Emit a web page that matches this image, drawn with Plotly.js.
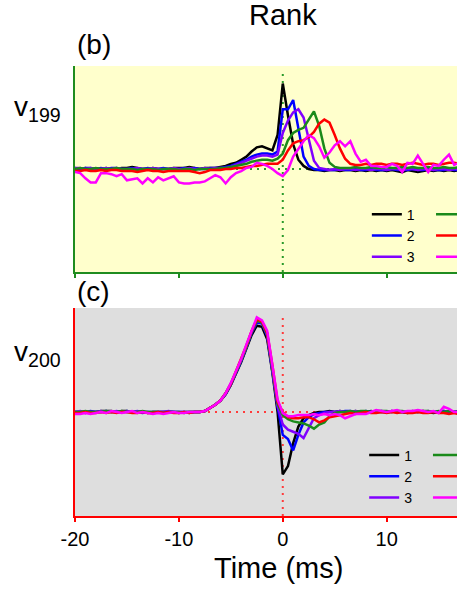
<!DOCTYPE html>
<html>
<head>
<meta charset="utf-8">
<script src="https://cdn.plot.ly/plotly-3.0.1.min.js"></script>
<style>
  html, body { margin: 0; padding: 0; background: #fff; }
  #chart { width: 457px; height: 591px; }
</style>
</head>
<body>
<div id="chart"></div>
<script>
// time axis (ms), one sample every 0.5 ms
const times = [
  -20, -19.5, -19, -18.5, -18, -17.5, -17, -16.5, -16, -15.5,
  -15, -14.5, -14, -13.5, -13, -12.5, -12, -11.5, -11, -10.5,
  -10, -9.5, -9, -8.5, -8, -7.5, -7, -6.5, -6, -5.5,
  -5, -4.5, -4, -3.5, -3, -2.5, -2, -1.5, -1, -0.5,
  0, 0.5, 1, 1.5, 2, 2.5, 3, 3.5, 4, 4.5,
  5, 5.5, 6, 6.5, 7, 7.5, 8, 8.5, 9, 9.5,
  10, 10.5, 11, 11.5, 12, 12.5, 13, 13.5, 14, 14.5,
  15, 15.5, 16, 16.5, 17
];

const tickVals = [-20, -10, 0, 10];
const tickText = ['-20', '-10', '0', '10'];

const rankNames = ['1', '2', '3', '4', '5', '6'];
const rankColors = ['#000000', '#0000ff', '#8000ff', '#1a8a1a', '#ff0000', '#ff00ff'];

// panel (b): v199
const v199rank1 = [
  0.00, 0.00, 0.01, 0.00, 0.00, 0.00, 0.01, 0.00, 0.00, 0.01,
  0.01, 0.02, 0.01, 0.00, 0.00, 0.01, 0.00, 0.00, 0.00, 0.01,
  0.01, 0.01, 0.02, 0.01, 0.00, 0.01, 0.01, 0.01, 0.02, 0.03,
  0.05, 0.06, 0.09, 0.12, 0.17, 0.21, 0.22, 0.20, 0.18, 0.33,
  0.83, 0.52, 0.24, 0.09, 0.03, 0.00, -0.01, -0.01, -0.02, -0.01,
  -0.01, -0.02, -0.01, -0.01, -0.02, -0.01, -0.02, -0.01, -0.02, -0.01,
  -0.02, -0.01, -0.02, -0.03, -0.01, -0.02, -0.03, -0.02, -0.01, -0.02,
  -0.01, -0.02, -0.01, -0.02, -0.01
];
const v199rank2 = [
  0.01, 0.00, 0.01, 0.01, 0.00, 0.01, 0.00, 0.01, 0.01, 0.00,
  0.00, 0.01, 0.00, 0.00, 0.01, 0.00, 0.00, 0.01, 0.00, 0.00,
  0.00, 0.01, 0.00, 0.01, 0.00, 0.00, 0.01, 0.01, 0.01, 0.02,
  0.03, 0.05, 0.07, 0.09, 0.12, 0.14, 0.15, 0.15, 0.14, 0.17,
  0.58, 0.58, 0.67, 0.40, 0.12, 0.03, 0.00, -0.01, -0.01, -0.01,
  -0.01, 0.00, -0.01, -0.01, 0.00, -0.01, -0.01, 0.00, -0.01, -0.01,
  -0.01, 0.00, -0.01, -0.01, -0.01, 0.00, -0.01, -0.01, 0.00, -0.01,
  -0.01, -0.01, 0.00, -0.01, -0.01
];
const v199rank3 = [
  0.01, 0.01, 0.00, 0.01, 0.00, 0.00, 0.01, 0.00, 0.01, 0.00,
  0.00, 0.00, 0.01, 0.00, 0.00, 0.01, 0.00, 0.00, 0.00, 0.01,
  0.00, 0.00, 0.01, 0.00, 0.00, 0.01, 0.00, 0.01, 0.01, 0.01,
  0.02, 0.04, 0.06, 0.08, 0.10, 0.12, 0.13, 0.13, 0.12, 0.14,
  0.35, 0.47, 0.55, 0.58, 0.50, 0.28, 0.08, 0.01, 0.00, -0.01,
  0.00, -0.01, 0.00, 0.00, -0.01, 0.00, 0.00, -0.01, 0.00, 0.00,
  -0.01, 0.00, 0.00, -0.01, 0.00, 0.00, -0.01, 0.00, 0.00, -0.01,
  0.00, 0.00, -0.01, 0.00, 0.00
];
const v199rank4 = [
  0.00, 0.01, 0.00, 0.00, 0.01, 0.00, 0.00, 0.00, 0.01, 0.00,
  0.00, 0.00, -0.01, 0.00, 0.00, 0.00, -0.01, 0.00, 0.00, 0.00,
  -0.01, 0.00, 0.00, -0.01, 0.00, 0.00, 0.00, 0.00, 0.01, 0.01,
  0.02, 0.03, 0.04, 0.05, 0.07, 0.08, 0.09, 0.09, 0.08, 0.10,
  0.15, 0.28, 0.35, 0.38, 0.40, 0.48, 0.56, 0.42, 0.20, 0.06,
  0.02, 0.01, 0.01, 0.01, 0.02, 0.01, 0.01, 0.02, 0.01, 0.01,
  0.02, 0.01, 0.01, 0.02, 0.01, 0.02, 0.01, 0.01, 0.02, 0.01,
  0.01, 0.02, 0.01, 0.01, 0.02
];
const v199rank5 = [
  -0.02, -0.02, -0.01, -0.02, -0.02, -0.01, -0.02, -0.01, -0.01, -0.02,
  -0.02, -0.02, -0.03, -0.02, -0.01, -0.02, -0.02, -0.03, -0.02, -0.02,
  -0.02, -0.02, -0.02, -0.03, -0.04, -0.03, -0.01, -0.01, -0.01, 0.00,
  0.00, 0.01, 0.01, 0.02, 0.03, 0.03, 0.04, 0.05, 0.05, 0.05,
  0.09, 0.18, 0.25, 0.27, 0.28, 0.31, 0.36, 0.44, 0.48, 0.45,
  0.33, 0.20, 0.10, 0.05, 0.04, 0.04, 0.05, 0.04, 0.05, 0.05,
  0.04, 0.05, 0.05, 0.04, 0.05, 0.06, 0.05, 0.04, 0.05, 0.05,
  0.04, 0.05, 0.06, 0.06, 0.05
];
const v199rank6 = [
  -0.03, -0.04, -0.09, -0.13, -0.13, -0.04, -0.04, -0.05, -0.07, -0.05,
  -0.11, -0.10, -0.09, -0.14, -0.09, -0.13, -0.08, -0.11, -0.09, -0.07,
  -0.13, -0.14, -0.14, -0.13, -0.13, -0.12, -0.09, -0.06, -0.08, -0.14,
  -0.08, -0.04, -0.02, 0.01, 0.02, 0.06, 0.05, 0.03, 0.00, -0.04,
  -0.07, -0.01, 0.12, 0.20, 0.27, 0.33, 0.30, 0.22, 0.11, 0.16,
  0.23, 0.27, 0.22, 0.27, 0.15, 0.07, 0.09, 0.03, 0.03, 0.02,
  0.02, 0.05, 0.03, -0.03, 0.06, 0.05, 0.13, 0.05, -0.03, 0.04,
  0.03, 0.09, 0.14, 0.04, 0.06
];

// panel (c): v200
const v200rank1 = [
  0.00, 0.00, -0.01, 0.00, 0.00, 0.01, 0.01, 0.01, 0.00, 0.01,
  0.01, 0.00, 0.00, 0.00, -0.01, 0.00, 0.00, 0.00, 0.00, 0.00,
  -0.01, 0.00, 0.00, 0.00, 0.00, 0.01, 0.04, 0.07, 0.11, 0.17,
  0.26, 0.37, 0.48, 0.61, 0.74, 0.83, 0.82, 0.70, 0.38, 0.00,
  -0.60, -0.52, -0.30, -0.14, -0.06, -0.03, -0.01, 0.00, 0.00, 0.01,
  0.00, 0.01, 0.00, 0.00, 0.01, 0.00, 0.00, 0.01, 0.00, 0.00,
  0.00, 0.01, 0.00, 0.00, -0.01, 0.00, 0.00, 0.01, 0.00, -0.01,
  0.00, 0.01, 0.00, 0.00, 0.01
];
const v200rank2 = [
  0.00, 0.00, 0.00, 0.01, 0.00, 0.00, 0.01, 0.00, 0.00, 0.00,
  0.01, 0.00, 0.00, -0.01, 0.00, 0.00, 0.00, 0.00, 0.00, 0.00,
  0.00, 0.00, -0.01, 0.00, 0.00, 0.01, 0.04, 0.07, 0.11, 0.17,
  0.26, 0.37, 0.49, 0.62, 0.76, 0.86, 0.85, 0.73, 0.40, 0.05,
  -0.22, -0.26, -0.37, -0.22, -0.10, -0.05, -0.02, -0.01, 0.00, 0.00,
  0.00, 0.00, 0.01, 0.01, 0.00, 0.00, 0.01, 0.00, 0.00, 0.01,
  0.00, 0.00, 0.01, 0.00, 0.00, 0.00, 0.01, 0.00, 0.00, 0.00,
  0.00, 0.01, 0.00, 0.00, 0.00
];
const v200rank3 = [
  0.00, 0.01, 0.00, 0.00, 0.00, 0.01, 0.00, 0.00, 0.01, 0.00,
  0.00, 0.00, 0.01, 0.00, 0.00, -0.01, 0.00, 0.00, 0.01, 0.00,
  0.00, 0.00, 0.00, 0.00, 0.00, 0.01, 0.04, 0.07, 0.11, 0.18,
  0.27, 0.38, 0.50, 0.63, 0.77, 0.88, 0.86, 0.74, 0.42, 0.06,
  -0.12, -0.17, -0.19, -0.21, -0.25, -0.15, -0.06, -0.03, -0.01, 0.00,
  0.00, 0.01, 0.00, 0.00, 0.01, 0.00, 0.00, 0.00, 0.01, 0.00,
  0.00, 0.01, 0.00, 0.00, 0.00, 0.01, 0.00, 0.00, 0.01, 0.00,
  0.00, 0.00, 0.01, 0.00, 0.00
];
const v200rank4 = [
  0.00, 0.00, 0.01, 0.00, 0.00, 0.00, 0.01, 0.00, 0.00, 0.01,
  0.00, 0.00, 0.00, 0.01, 0.00, 0.00, 0.00, -0.01, 0.00, 0.00,
  0.00, -0.01, 0.00, 0.00, 0.00, 0.01, 0.04, 0.07, 0.11, 0.18,
  0.27, 0.38, 0.50, 0.63, 0.77, 0.88, 0.86, 0.75, 0.43, 0.08,
  -0.03, -0.07, -0.09, -0.10, -0.11, -0.13, -0.16, -0.12, -0.10, -0.04,
  -0.01, 0.00, 0.00, 0.01, 0.00, 0.01, 0.01, 0.00, 0.01, 0.01,
  0.01, 0.00, 0.01, 0.01, 0.00, 0.01, 0.00, 0.01, 0.01, 0.00,
  0.01, 0.00, 0.01, 0.00, 0.00
];
const v200rank5 = [
  -0.01, -0.01, 0.00, -0.01, -0.01, 0.00, -0.01, 0.00, -0.01, 0.00,
  0.00, -0.01, -0.01, 0.00, -0.01, -0.01, 0.00, -0.01, 0.00, -0.01,
  -0.01, 0.00, -0.01, 0.00, 0.00, 0.01, 0.04, 0.07, 0.11, 0.18,
  0.27, 0.39, 0.51, 0.64, 0.78, 0.89, 0.87, 0.76, 0.45, 0.10,
  0.00, -0.05, -0.06, -0.06, -0.05, -0.05, -0.07, -0.10, -0.08, -0.05,
  -0.04, -0.03, -0.02, -0.01, -0.02, -0.01, 0.00, -0.01, -0.01, 0.00,
  -0.01, 0.00, -0.01, 0.00, -0.01, -0.01, 0.00, -0.01, -0.01, 0.00,
  -0.01, -0.01, -0.02, -0.01, -0.02
];
const v200rank6 = [
  -0.02, -0.02, -0.01, -0.02, -0.01, 0.00, -0.01, 0.01, 0.00, -0.01,
  0.00, 0.01, -0.01, 0.00, -0.01, -0.02, -0.01, -0.02, -0.01, 0.00,
  -0.01, -0.01, 0.00, 0.00, 0.00, 0.01, 0.04, 0.07, 0.11, 0.18,
  0.28, 0.39, 0.51, 0.65, 0.79, 0.91, 0.88, 0.78, 0.45, 0.12,
  -0.01, -0.04, -0.04, -0.03, -0.03, -0.03, -0.02, -0.03, -0.02, -0.03,
  -0.02, -0.03, -0.06, -0.04, -0.02, -0.02, -0.02, 0.00, 0.02, 0.01,
  0.00, 0.01, 0.02, 0.00, 0.01, 0.01, 0.02, 0.01, 0.00, 0.01,
  -0.01, 0.05, 0.03, 0.00, 0.00
];

const v199 = [v199rank1, v199rank2, v199rank3, v199rank4, v199rank5, v199rank6];
const v200 = [v200rank1, v200rank2, v200rank3, v200rank4, v200rank5, v200rank6];

const GREEN = '#1f8c1f';
const RED = '#ff0000';
const FONT = 'Liberation Sans, Arial, sans-serif';
const xRange = [-20, 16.77];

const data = [];
v199.forEach((ys, i) => {
  data.push({
    x: times, y: ys, type: 'scatter', mode: 'lines',
    xaxis: 'x', yaxis: 'y',
    name: rankNames[i],
    line: { color: rankColors[i], width: 2.5 },
    legend: i < 3 ? 'legend' : 'legend2'
  });
});
v200.forEach((ys, i) => {
  data.push({
    x: times, y: ys, type: 'scatter', mode: 'lines',
    xaxis: 'x2', yaxis: 'y2',
    name: rankNames[i],
    line: { color: rankColors[i], width: 2.5 },
    legend: i < 3 ? 'legend3' : 'legend4'
  });
});

const legendBase = (x, y) => ({
  x: x, y: y, xanchor: 'left', yanchor: 'top',
  bgcolor: 'rgba(0,0,0,0)', borderwidth: 0,
  font: { family: FONT, size: 14, color: '#000' },
  itemclick: false
});

const xBase = (color, anchor) => ({
  range: xRange, anchor: anchor,
  showgrid: false, zeroline: false,
  showline: true, linecolor: color, linewidth: 2,
  tickvals: tickVals, ticktext: tickText,
  ticks: 'outside', ticklen: 4, tickwidth: 2, tickcolor: color
});
const xOverlay = (color, over, anchor) => ({
  range: xRange, overlaying: over, anchor: anchor,
  showgrid: false, zeroline: false, showticklabels: false,
  showline: true, linecolor: color, linewidth: 2, mirror: 'ticks',
  tickvals: tickVals, ticks: 'inside', ticklen: 4, tickwidth: 2, tickcolor: color
});
const yBase = (color, domain) => ({
  range: [-1, 1], domain: domain,
  showgrid: false, zeroline: false, showticklabels: false, ticks: '',
  showline: true, linecolor: color, linewidth: 2
});

const dotted = (color) => ({ color: color, width: 2, dash: '2px,5px' });

const layout = {
  width: 457, height: 591,
  margin: { l: 75, r: 0, t: 66, b: 75, autoexpand: false },
  paper_bgcolor: '#ffffff',
  plot_bgcolor: 'rgba(0,0,0,0)',
  font: { family: FONT, color: '#000' },
  showlegend: true,
  xaxis: Object.assign(xBase(GREEN, 'y'), { showticklabels: false }),
  xaxis3: xOverlay(GREEN, 'x', 'y'),
  yaxis: yBase(GREEN, [0.5422, 1]),
  xaxis2: Object.assign(xBase(RED, 'y2'), {
    showticklabels: true,
    tickfont: { family: FONT, size: 20, color: '#000' }
  }),
  xaxis4: xOverlay(RED, 'x2', 'y2'),
  yaxis2: yBase(RED, [0, 0.4622]),
  legend: legendBase(0.764, 0.705),
  legend2: legendBase(0.932, 0.705),
  legend3: legendBase(0.757, 0.170),
  legend4: legendBase(0.924, 0.170),
  shapes: [
    { type: 'rect', xref: 'x domain', yref: 'y domain', x0: 0, x1: 1, y0: 0, y1: 1,
      fillcolor: '#ffffcc', line: { width: 0 }, layer: 'below' },
    { type: 'rect', xref: 'x2 domain', yref: 'y2 domain', x0: 0, x1: 1, y0: 0, y1: 1,
      fillcolor: '#dedede', line: { width: 0 }, layer: 'below' },
    { type: 'line', xref: 'x domain', yref: 'y', x0: 0, x1: 1, y0: 0, y1: 0,
      line: dotted('#2a9a2a'), layer: 'below' },
    { type: 'line', xref: 'x', yref: 'y domain', x0: 0, x1: 0, y0: 0, y1: 0.97,
      line: dotted('#2a9a2a'), layer: 'below' },
    { type: 'line', xref: 'x2 domain', yref: 'y2', x0: 0, x1: 1, y0: 0, y1: 0,
      line: dotted('#ff3b3b'), layer: 'below' },
    { type: 'line', xref: 'x2', yref: 'y2 domain', x0: 0, x1: 0, y0: 0, y1: 0.97,
      line: dotted('#ff3b3b'), layer: 'below' }
  ],
  annotations: [
    { text: 'Rank', xref: 'paper', yref: 'paper', x: 0.5445, y: 1.113,
      xanchor: 'center', yanchor: 'middle', showarrow: false,
      font: { family: FONT, size: 29, color: '#000' } },
    { text: '(b)', xref: 'paper', yref: 'paper', x: 0.0, y: 1.047,
      xanchor: 'left', yanchor: 'middle', showarrow: false,
      font: { family: FONT, size: 28, color: '#000' } },
    { text: '(c)', xref: 'paper', yref: 'paper', x: 0.0, y: 0.498,
      xanchor: 'left', yanchor: 'middle', showarrow: false,
      font: { family: FONT, size: 28, color: '#000' } },
    { text: 'v<sub>199</sub>', xref: 'paper', yref: 'paper', x: -0.165, y: 0.905,
      xanchor: 'left', yanchor: 'middle', showarrow: false,
      font: { family: FONT, size: 28, color: '#000' } },
    { text: 'v<sub>200</sub>', xref: 'paper', yref: 'paper', x: -0.165, y: 0.362,
      xanchor: 'left', yanchor: 'middle', showarrow: false,
      font: { family: FONT, size: 28, color: '#000' } },
    { text: 'Time (ms)', xref: 'paper', yref: 'paper', x: 0.534, y: -0.1156,
      xanchor: 'center', yanchor: 'middle', showarrow: false,
      font: { family: FONT, size: 29, color: '#000' } }
  ]
};

Plotly.newPlot('chart', data, layout, { staticPlot: true, displayModeBar: false });
</script>
</body>
</html>
